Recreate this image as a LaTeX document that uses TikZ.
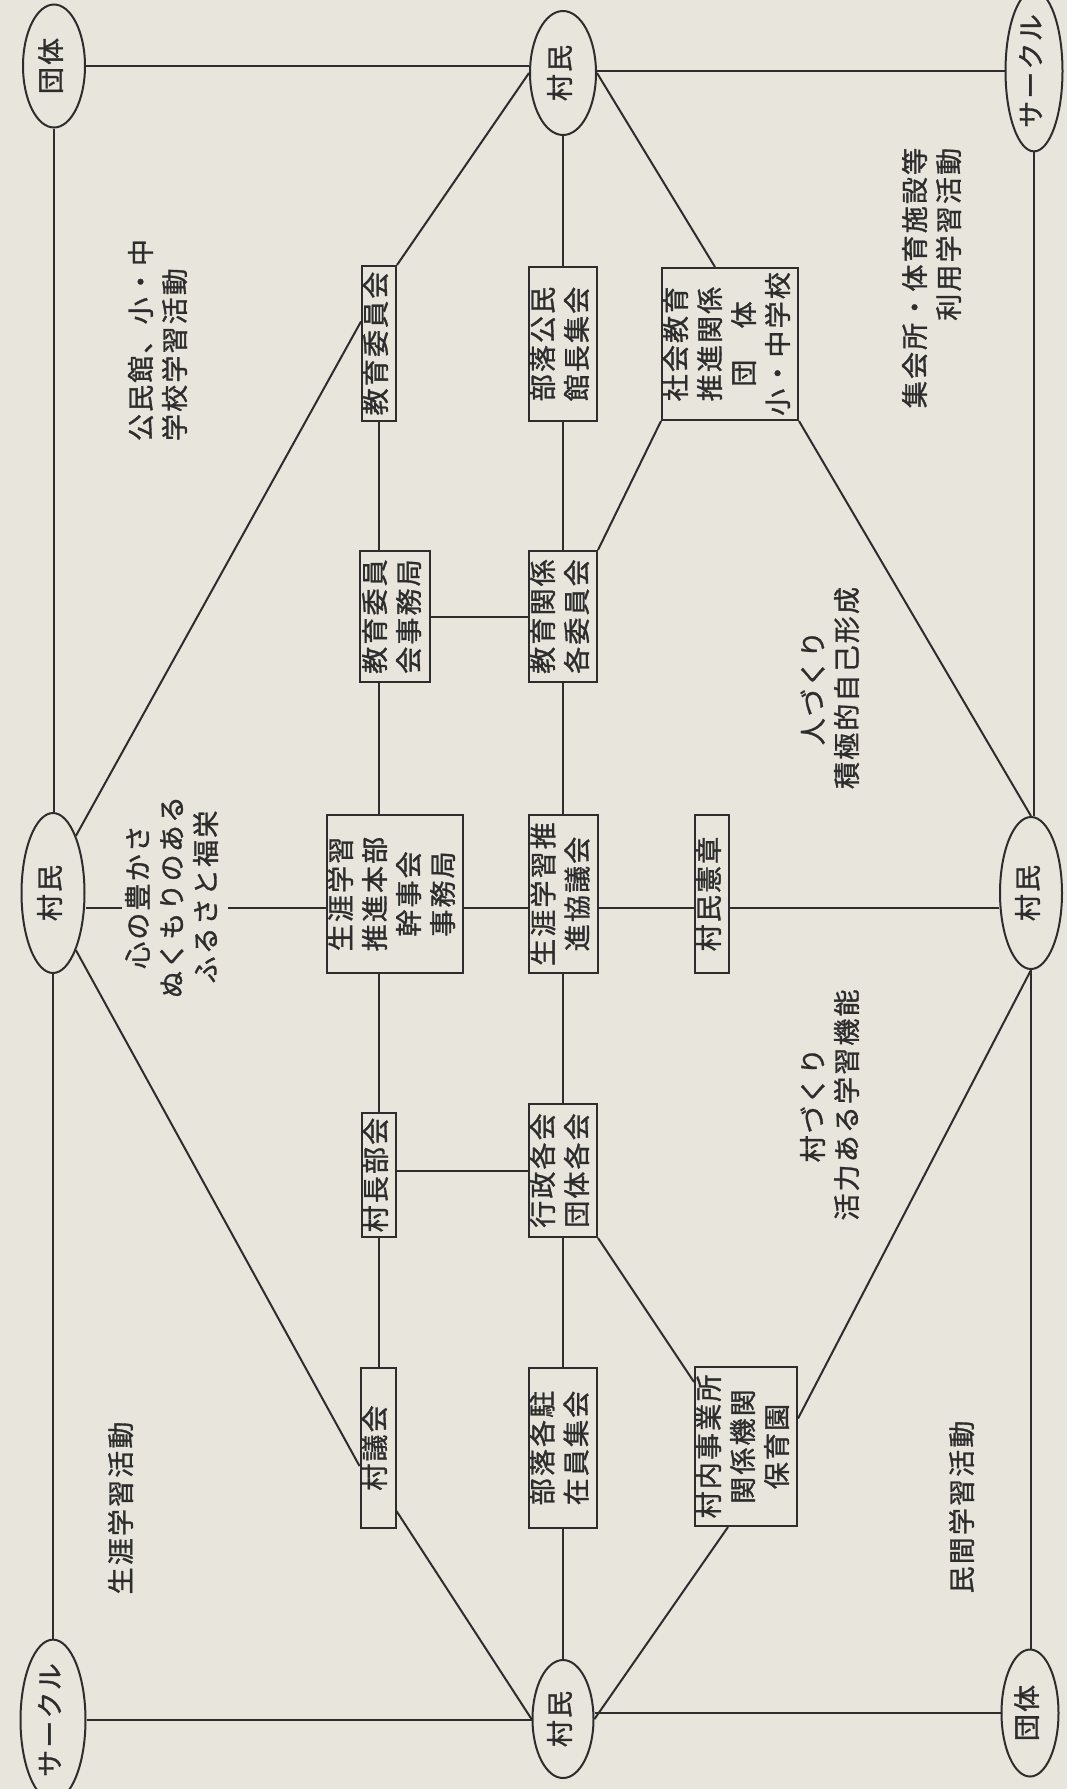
\documentclass[tikz,border=0pt]{standalone}
\usepackage{fontspec}
\usepackage{graphicx}
\usetikzlibrary{shapes.geometric}
\newfontfamily\jp{Noto Sans CJK JP}[LetterSpace=8,FakeBold=1.2]
\definecolor{paper}{RGB}{231,229,220}
\definecolor{ink}{RGB}{45,45,45}
\newcommand{\vtc}[1]{\rotatebox{90}{\begin{tabular}{@{}c@{}}#1\end{tabular}}}
\newcommand{\vtl}[1]{\rotatebox{90}{\begin{tabular}{@{}l@{}}#1\end{tabular}}}
\newcommand{\vtr}[1]{\rotatebox{90}{\begin{tabular}{@{}r@{}}#1\end{tabular}}}
\tikzset{
  base/.style={font=\jp\fontsize{27}{34}\selectfont, text=ink, inner sep=0pt},
  boxnode/.style={base, rectangle, draw=ink, line width=2pt, fill=paper},
  oval/.style={base, ellipse, draw=ink, line width=2pt, fill=paper},
  conn/.style={draw=ink, line width=2pt},
  freetext/.style={base}
}
\begin{document}
\begin{tikzpicture}[x=1pt,y=-1pt]
\useasboundingbox (0,0) rectangle (1067,1789);
\fill[paper] (0,0) rectangle (1067,1789);

% ellipses
\node[oval, minimum width=62pt, minimum height=123pt] (tL) at (54,66) {\vtc{団体}};
\node[oval, minimum width=66pt, minimum height=124pt] (vT) at (563,73) {\vtc{村民}};
\node[oval, minimum width=57pt, minimum height=133pt] (tR) at (1034,71) {\vtc{サークル}};
\node[oval, minimum width=63pt, minimum height=160pt] (vL) at (53,893) {\vtc{村民}};
\node[oval, minimum width=62pt, minimum height=152pt] (vR) at (1031,893) {\vtc{村民}};
\node[oval, minimum width=65pt, minimum height=134pt] (bL) at (53,1720) {\vtc{サークル}};
\node[oval, minimum width=61pt, minimum height=118pt] (vB) at (563,1719) {\vtc{村民}};
\node[oval, minimum width=57pt, minimum height=127pt] (bR) at (1030,1713) {\vtc{団体}};

% boxes
\node[boxnode, minimum width=34pt, minimum height=155pt] (kiyo) at (379,343.5) {\vtc{教育委員会}};
\node[boxnode, minimum width=68pt, minimum height=154pt] (buraku) at (563,344) {\vtc{部落公民\\館長集会}};
\node[boxnode, minimum width=134pt, minimum height=152pt] (shakai) at (730,344) {\vtc{社会教育\\推進関係\\団　体\\小・中学校}};
\node[boxnode, minimum width=70pt, minimum height=131pt] (jimu) at (395,616.5) {\vtc{教育委員\\会事務局}};
\node[boxnode, minimum width=68pt, minimum height=131pt] (kakui) at (563,616.5) {\vtc{教育関係\\各委員会}};
\node[boxnode, minimum width=136pt, minimum height=158pt] (honbu) at (395,894) {\vtc{生涯学習\\推進本部\\幹事会\\事務局}};
\node[boxnode, minimum width=69pt, minimum height=158pt] (kyogi) at (563.5,894) {\vtc{生涯学習推\\進協議会}};
\node[boxnode, minimum width=34pt, minimum height=158pt] (kensho) at (712,894) {\vtc{村民憲章}};
\node[boxnode, minimum width=34pt, minimum height=124pt] (soncho) at (379,1175) {\vtc{村長部会}};
\node[boxnode, minimum width=68pt, minimum height=133pt] (gyosei) at (563,1170.5) {\vtc{行政各会\\団体各会}};
\node[boxnode, minimum width=35pt, minimum height=160pt] (gikai) at (378,1448) {\vtc{村議会}};
\node[boxnode, minimum width=67pt, minimum height=160pt] (chuzai) at (562.5,1448) {\vtc{部落各駐\\在員集会}};
\node[boxnode, minimum width=102pt, minimum height=159pt] (jigyo) at (746,1446.5) {\vtc{村内事業所\\関係機関\\保育園}};

% free texts
\node[freetext] (t1) at (161,340) {\vtl{公民館、小・中\\学校学習活動}};
\node[freetext] (t2) at (935,278) {\vtr{集会所・体育施設等\\利用学習活動}};
\node[freetext] (t4) at (833,688) {\vtc{人づくり\\積極的自己形成}};
\node[freetext] (t5) at (833,1105) {\vtc{村づくり\\活力ある学習機能}};
\node[freetext] (t6) at (124,1508) {\vtc{生涯学習活動}};
\node[freetext] (t7) at (965,1507) {\vtc{民間学習活動}};

% outer frame
\coordinate (mid) at (0,908);
\draw[conn] (tL.east) -- (tL.east -| vT.west);
\draw[conn] (tR.west) -- (tR.west -| vT.east);
\draw[conn] (bL.east) -- (bL.east -| vB.west);
\draw[conn] (bR.west) -- (bR.west -| vB.east);
\draw[conn] (tL.south) -- (tL.south |- vL.north);
\draw[conn] (vL.south) -- (vL.south |- bL.north);
\draw[conn] (tR.south) -- (tR.south |- vR.north);
\draw[conn] (vR.south) -- (vR.south |- bR.north);

% diagram connectors
\draw[conn] (vT.west) -- (kiyo.north east);
\draw[conn] (vT.east) -- ([xshift=-15pt]shakai.north);
\draw[conn] (vT.south) -- (buraku.north);
\draw[conn] ([yshift=22pt]kiyo.west) -- (vL.north east);
\draw[conn] (shakai.south east) -- (vR.north);
\draw[conn] (shakai.south west) -- (kakui.north east);
\draw[conn] (kiyo.south) -- (kiyo.south |- jimu.north);
\draw[conn] (buraku.south) -- (kakui.north);
\draw[conn] (jimu.east) -- (kakui.west);
\draw[conn] (jimu.south -| kiyo.south) -- (honbu.north -| kiyo.south);
\draw[conn] (kakui.south) -- (kakui.south |- kyogi.north);
\draw[conn] (vL.east |- mid) -- (honbu.west |- mid);
\draw[conn] (honbu.east |- mid) -- (kyogi.west |- mid);
\draw[conn] (kyogi.east |- mid) -- (kensho.west |- mid);
\draw[conn] (kensho.east |- mid) -- (vR.west |- mid);
\draw[conn] (honbu.south -| soncho.north) -- (soncho.north);
\draw[conn] (kyogi.south -| gyosei.north) -- (gyosei.north);
\draw[conn] (gyosei.west) -- (gyosei.west -| soncho.east);
\draw[conn] (soncho.south) -- (soncho.south |- gikai.north);
\draw[conn] (gyosei.south) -- (gyosei.south |- chuzai.north);
\draw[conn] (gyosei.south east) -- ([yshift=-16pt]jigyo.north west);
\draw[conn] ([yshift=28pt]jigyo.east) -- (vR.south);
\draw[conn] (vL.south east) -- ([yshift=-18pt]gikai.west);
\draw[conn] ([yshift=18pt]gikai.south east) -- (vB.west);
\draw[conn] (chuzai.south -| vB.north) -- (vB.north);
\draw[conn] ([xshift=-18pt]jigyo.south) -- (vB.east);

% text over the central line
\node[freetext, fill=paper, inner sep=2pt] (t3) at (175,897) {\vtc{心の豊かさ\\ぬくもりのある\\ふるさと福栄}};
\end{tikzpicture}
\end{document}
